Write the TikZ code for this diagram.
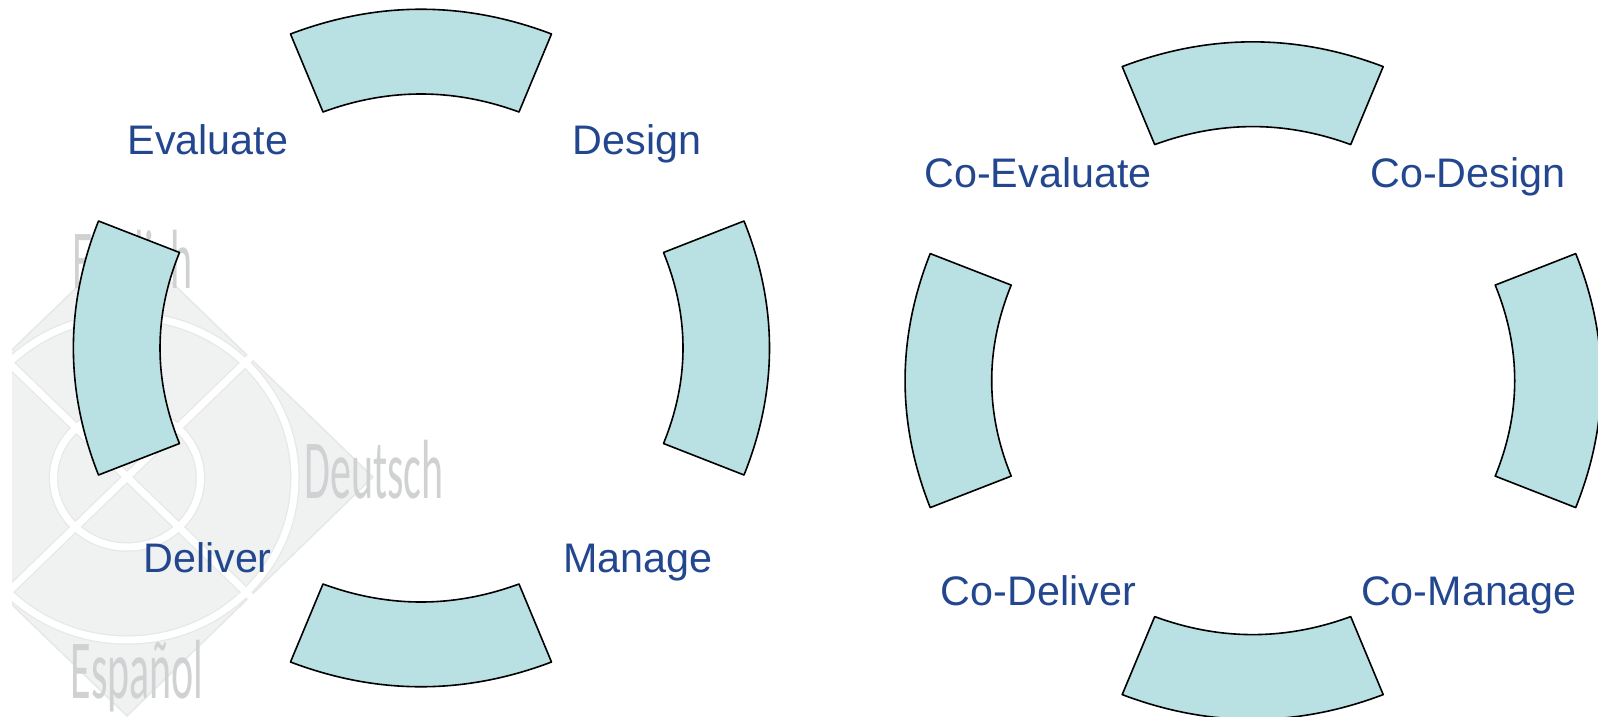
\documentclass[tikz,border=0pt]{standalone}
\usepackage{fontspec}
\setmainfont{Liberation Sans}
\newfontfamily\wmfont{Carlito}
\definecolor{segfill}{HTML}{B9E0E3}
\definecolor{lblue}{HTML}{23478F}
\definecolor{wmfill}{HTML}{F0F2F1}
\definecolor{wmedge}{HTML}{E6E8E7}
\definecolor{wmtext}{HTML}{CFD1D3}
\tikzset{
  seg/.style={draw=black,fill=segfill,line width=1.6pt,line join=round},
  lbl/.style={anchor=base,text=lblue,font=\fontsize{41.3}{41.3}\selectfont,inner sep=0pt},
  wm/.style={anchor=base,text=wmtext,font=\wmfont\fontsize{84}{84}\selectfont,inner sep=0pt,xscale=0.5},
  wmline/.style={line width=#1},
}
% #1 = cx, #2 = cy
\newcommand{\ringsegs}[2]{%
  \begin{scope}[shift={(#1,#2)}]
    \draw[seg] (-130.5,-314) .. controls (-43.5,-347) and (43.5,-347) .. (130.5,-314)
       -- (98,-236) .. controls (32.7,-260) and (-32.7,-260) .. (-98,-236) -- cycle;
    \draw[seg] (-130.5,314) .. controls (-43.5,347) and (43.5,347) .. (130.5,314)
       -- (98,236) .. controls (32.7,260) and (-32.7,260) .. (-98,236) -- cycle;
    \draw[seg] (323,-127) .. controls (357,-42.3) and (357,42.3) .. (323,127)
       -- (242.5,95.5) .. controls (268.5,31.8) and (268.5,-31.8) .. (242.5,-95.5) -- cycle;
    \draw[seg] (-322.5,-127) .. controls (-356,-42.3) and (-356,42.3) .. (-322.5,127)
       -- (-241.5,95.5) .. controls (-267.5,31.8) and (-267.5,-31.8) .. (-241.5,-95.5) -- cycle;
  \end{scope}}
\begin{document}
\begin{tikzpicture}[x=1pt,y=-1pt]
\useasboundingbox (0,0) rectangle (1598,717);
\begin{scope}
  \clip (12,0) rectangle (1598,717);
  \fill[wmfill,draw=wmedge,line width=1.5pt] (127,239) -- (373,477) -- (127,716) -- (-120,477) -- cycle;
  \begin{scope}
    \clip (127,239) -- (373,477) -- (127,716) -- (-120,477) -- cycle;
    \foreach \c/\w in {wmedge/9.5pt,white/7pt}{
      \draw[\c,wmline=\w] (127,478) ellipse [x radius=73.5,y radius=69];
      \draw[\c,wmline=\w] (127,478) ellipse [x radius=168,y radius=162];
      \draw[\c,wmline=\w] (4,358) -- (250,596);
      \draw[\c,wmline=\w] (4,596) -- (250,358);
    }
  \end{scope}
  \draw[white,wmline=7pt] (246,362) -- (254,354);
  \draw[white,wmline=7pt] (246,592) -- (254,600);
\end{scope}
\node[wm] (english) at (132.5,288) {English};
\node[wm] (deutsch) at (374,498) {Deutsch};
\node[wm] (espanol) at (137,698) {Español};
\ringsegs{421}{348}
\ringsegs{1252.7}{380.6}
\node[lbl] (evaluate) at (208,154.5) {Evaluate};
\node[lbl] (design) at (637,154.5) {Design};
\node[lbl] (deliver) at (207.5,572) {Deliver};
\node[lbl] (manage) at (638,572) {Manage};
\node[lbl] (coevaluate) at (1038,187.5) {Co-Evaluate};
\node[lbl] (codesign) at (1468,187.5) {Co-Design};
\node[lbl] (codeliver) at (1038.5,605) {Co-Deliver};
\node[lbl] (comanage) at (1469,605) {Co-Manage};
\end{tikzpicture}
\end{document}
